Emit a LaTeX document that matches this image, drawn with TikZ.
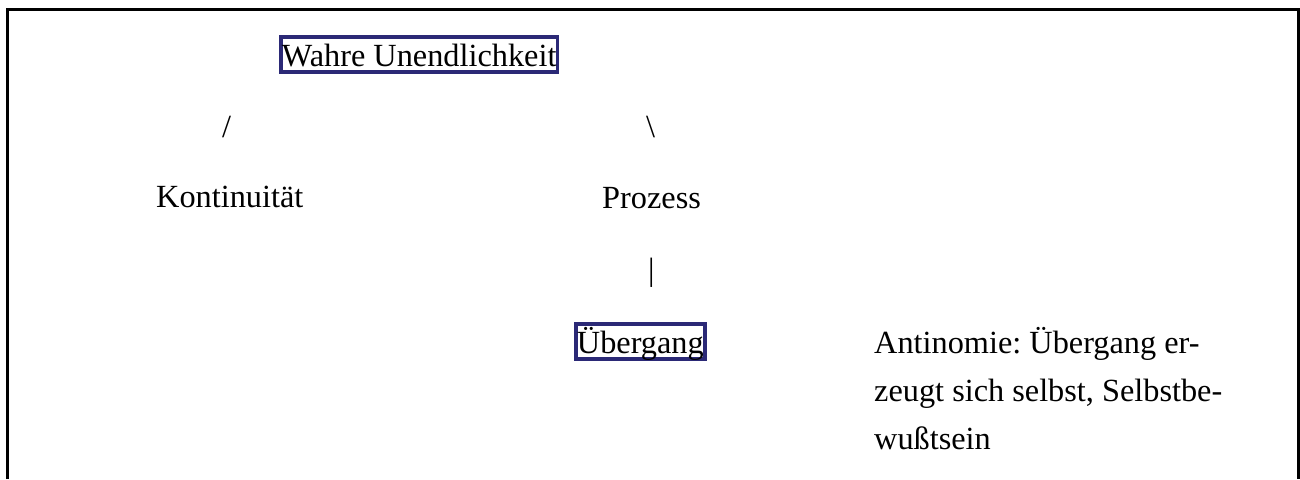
\documentclass[tikz,border=0pt]{standalone}
\usepackage{fontspec}
\setmainfont{Liberation Serif}
\usepackage{tikz}
\usetikzlibrary{positioning}
\definecolor{boxnavy}{HTML}{2B2976}
\frenchspacing

\begin{document}
\begin{tikzpicture}[x=1pt, y=-1pt,
    every node/.style = {font=\fontsize{32.3}{48}\selectfont, inner sep=0pt,
                         anchor=base west},
    concept/.style    = {draw=boxnavy, line width=3.5pt, inner xsep=1.2pt,
                         inner ysep=0pt, text height=29pt, text depth=6pt},
    plain/.style      = {},
  ]
  \useasboundingbox (0,0) rectangle (1300,479);

  % frame, open at the bottom
  \draw[line width=3pt] (7,479) -- (7,9) -- (1298.5,9) -- (1298.5,479);

  \node[concept] (wahre) at (279,66)  {Wahre Unendlichkeit};
  \node[plain]   (sl)    at (222,137) {/};
  \node[plain]   (bsl)   at (646,137) {\textbackslash};
  \node[plain]   (kont)  at (156,207) {Kontinuität};
  \node[plain]   (proz)  at (602,208) {Prozess};
  \node[plain]   (bar)   at (648,280) {|};
  \node[concept] (ueber) at (574,353) {Übergang};

  % comment on the right
  \node[plain, align=left] (anti) at (874,449)
      {Antinomie: Übergang er-\\zeugt sich selbst, Selbstbe-\\wußtsein};

\end{tikzpicture}
\end{document}
